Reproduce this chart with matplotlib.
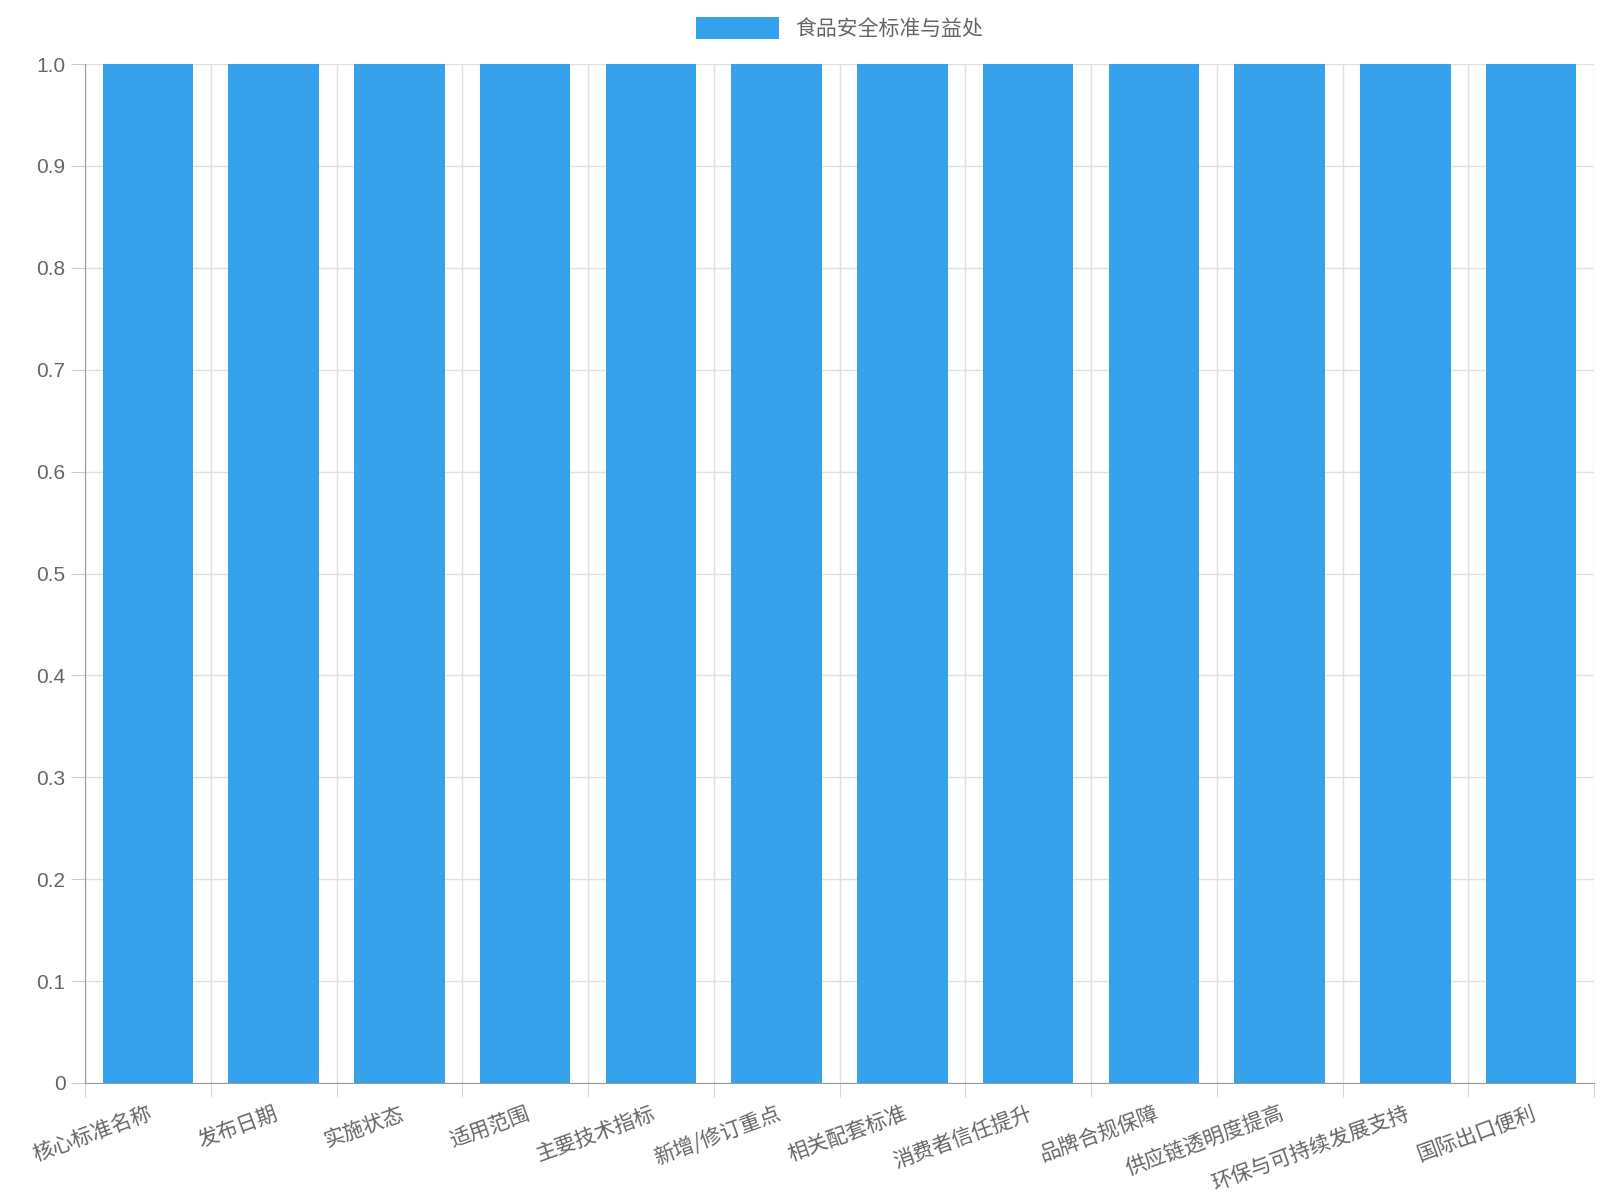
import matplotlib
matplotlib.use("Agg")
import matplotlib.pyplot as plt
import numpy as np

plt.rcParams['font.family'] = ['Noto Sans CJK SC', 'DejaVu Sans']

categories = ["核心标准名称", "发布日期", "实施状态", "适用范围", "主要技术指标", "新增/修订重点",
              "相关配套标准", "消费者信任提升", "品牌合规保障", "供应链透明度提高", "环保与可持续发展支持", "国际出口便利"]
values = [1, 1, 1, 1, 1, 1, 1, 1, 1, 1, 1, 1]
series_name = "食品安全标准与益处"
yticks = [0, 0.1, 0.2, 0.3, 0.4, 0.5, 0.6, 0.7, 0.8, 0.9, 1.0]
ytick_labels = ["0", "0.1", "0.2", "0.3", "0.4", "0.5", "0.6", "0.7", "0.8", "0.9", "1.0"]

fig = plt.figure(figsize=(16, 12), dpi=100)
ax = fig.add_axes([85/1600, 1-1083/1200, (1594-85)/1600, (1083-64)/1200])
x = np.arange(len(categories))
ax.bar(x, values, width=0.72, color='#36A2EB', label=series_name, zorder=2)
ax.set_xlim(-0.5, len(categories)-0.5)
ax.set_ylim(0, 1)
ax.set_yticks(yticks)
ax.set_yticklabels(ytick_labels, fontsize=15, color='#666666', family=['Liberation Sans', 'DejaVu Sans'])
ax.set_xticks(x)
ax.set_xticklabels(categories, rotation=20, ha='right', rotation_mode='anchor', fontsize=15, color='#666666')
ax.tick_params(axis='x', length=0, pad=14)
ax.set_xticks(np.arange(-0.5, len(categories)), minor=True)
ax.tick_params(axis='x', which='minor', length=10, color='#cccccc')
ax.tick_params(axis='y', length=10, color='#cccccc', pad=4)
ax.grid(True, which='minor', axis='x', color='#e0e0e0', lw=1, zorder=0)
ax.grid(True, which='major', axis='y', color='#e0e0e0', lw=1, zorder=0)
for s in ['top', 'right']:
    ax.spines[s].set_visible(False)
for s in ['left', 'bottom']:
    ax.spines[s].set_color('#999999')
leg = ax.legend(loc='lower center', bbox_to_anchor=(0.5, 1.005), frameon=False, fontsize=15,
                handlelength=4, handleheight=1.2, labelcolor='#666666')
fig.savefig('out.png', dpi=100)
